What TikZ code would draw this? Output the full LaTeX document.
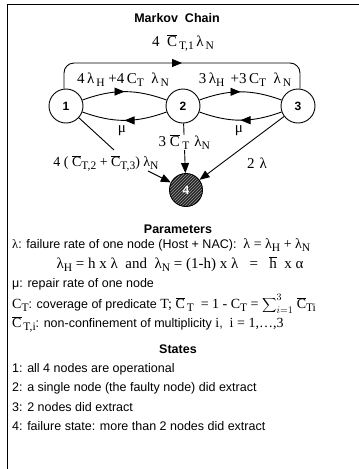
\documentclass[tikz,border=0pt]{standalone}
\usepackage{fontspec}
\setmainfont{Liberation Serif}
\setsansfont{Liberation Sans}
\usetikzlibrary{arrows.meta,decorations.markings,patterns,positioning}

\newcommand{\lo}[1]{\raisebox{-0.4ex}{\fontsize{11.5}{11.5}\selectfont #1}}
\newcommand{\cbar}{$\overline{\mbox{C}}$}

\begin{document}
\begin{tikzpicture}[x=1pt,y=-1pt,
  state/.style={circle, draw, line width=0.9pt, minimum size=34pt, inner sep=0pt,
    font=\sffamily\bfseries\fontsize{12}{14}\selectfont},
  failstate/.style={state, minimum size=33pt, preaction={fill=black!85},
    pattern=north east lines, pattern color=black!40, text=white},
  trans/.style={line width=0.9pt},
  midarrow/.style={trans, postaction={decorate}, decoration={markings,
    mark=at position 0.5 with {\arrow{Triangle[length=10pt,width=8pt]}}}},
  endarrow/.style={trans, -{Triangle[length=10pt,width=8pt]}},
  rate/.style={font=\rmfamily\fontsize{15}{17}\selectfont, inner sep=1pt},
  head/.style={font=\sffamily\bfseries\fontsize{12.5}{14}\selectfont},
  txt/.style={font=\sffamily\fontsize{12.5}{14}\selectfont, anchor=west, inner sep=0pt},
  frm/.style={font=\rmfamily\fontsize{15}{17}\selectfont}]

\useasboundingbox (0,0) rectangle (359,469);
\draw[line width=1pt] (7,469) -- (7,4) -- (359,4);

%% Markov chain
\node[head] (mc) at (177,18) {Markov\ \ Chain};

\node[state] (n1) at (66,106) {1};
\node[state] (n2) at (183,106) {2};
\node[state] (n3) at (298,106) {3};
\node[failstate] (n4) at (186,190) {4};

% 1 -> 3 over the top
\coordinate (top) at (182,63);
\draw[midarrow, rounded corners=10pt] ([xshift=-2pt]n1.north) |- (top) -| ([xshift=2pt]n3.north);
\node[rate] (r13) at (183,43) {4\ \ \cbar\lo{\,T,1}\,λ\lo{\,N}};

% 1 <-> 2 <-> 3
\draw[midarrow] (n1) to[bend left=20] (n2);
\draw[midarrow] (n2) to[bend left=20] (n1);
\draw[midarrow] (n2) to[bend left=20] (n3);
\draw[midarrow] (n3) to[bend left=20] (n2);
\node[rate] (r12) at (123,80) {4\,λ\lo{\,H}\ +4\,C\lo{T}\ \ λ\lo{\,N}};
\node[rate] (r23) at (245,80) {3\,λ\lo{H}\ \,+3\,C\lo{T}\ \ λ\lo{\,N}};
\node[rate] (mu21) at (122,131) {μ};
\node[rate] (mu32) at (239,131) {μ};

% into the failure state
\coordinate (c14) at (114,150);
\coordinate (c14b) at (148,171);
\draw[trans] (n1) -- (c14);
\draw[endarrow] (c14b) -- (n4);
\node[rate, font=\rmfamily\fontsize{14}{16}\selectfont] (r14) at (106,163)
  {4 ( \cbar\lo{T,2} + \cbar\lo{T,3}) λ\lo{N}};
\draw[endarrow] (n2) -- node[rate, fill=white, pos=0.38, inner sep=0pt] (r24)
  {3 \cbar\,\lo{T}\,\,λ\lo{N}} (n4);
\draw[endarrow] (n3) -- (n4);
\node[rate] (r34) at (257,163) {2\,\,λ};

%% Parameters
\node[head] (par) at (178,229) {Parameters};
\node[txt] (p1) at (12,245) {{\rmfamily λ}: failure rate of one node (Host + NAC):\ \ {\rmfamily\fontsize{14}{16}\selectfont λ = λ\lo{H} + λ\lo{N}}};
\node[frm] (p2) at (180,264)
  {λ\lo{H} = h x λ\ \ and\ \ λ\lo{N} = (1-h) x λ\ \ \ =\ \ \ $\overline{\mbox{h}}$\ \ x α};
\node[txt] (p3) at (12,284) {μ: repair rate of one node};
\node[txt] (p4) at (12,304) {{\rmfamily\fontsize{14}{16}\selectfont C\lo{T}}: coverage of predicate {\rmfamily\fontsize{14}{16}\selectfont T; \cbar\lo{\,T}\ \ = 1 - C\lo{T} = $\displaystyle\sum\nolimits_{i=1}^{3}$\ \cbar\lo{Ti}}};
\node[txt] (p5) at (12,324) {{\rmfamily\fontsize{14}{16}\selectfont \cbar\lo{\,T,i}}: non-confinement of multiplicity {\rmfamily\fontsize{14}{16}\selectfont i},\ \ {\rmfamily\fontsize{14}{16}\selectfont i = 1,\dots,3}};

%% States
\node[head] (st) at (178,349) {States};
\node[txt] (s1) at (12,369) {1: all 4 nodes are operational};
\node[txt] (s2) at (12,388) {2: a single node (the faulty node) did extract};
\node[txt] (s3) at (12,407) {3: 2 nodes did extract};
\node[txt] (s4) at (12,426) {4: failure state: more than 2 nodes did extract};

\end{tikzpicture}
\end{document}
